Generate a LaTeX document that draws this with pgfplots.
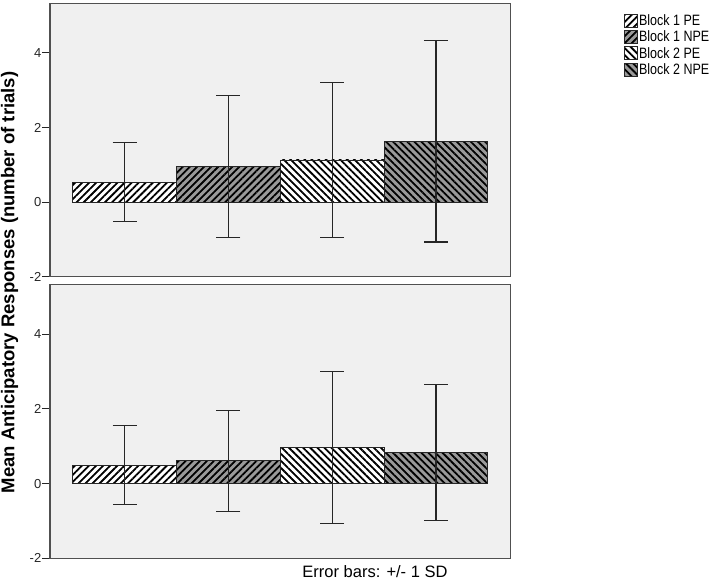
\documentclass[border=0pt]{standalone}
\usepackage{fontspec}
\setmainfont{Liberation Sans}
\usepackage{graphicx}
\usepackage{pgfplots}
\pgfplotsset{compat=1.18}
\usetikzlibrary{patterns.meta}
\definecolor{bggray}{RGB}{240,240,240}
\definecolor{npegray}{RGB}{153,153,153}
\definecolor{framegray}{RGB}{80,80,80}
\newcommand{\legtxt}[1]{\scalebox{1}[1.2]{#1}}
\pgfplotsset{
  panel/.style={
    width=460.7pt, height=273.4pt, scale only axis,
    xmin=-0.72, xmax=3.72, ymin=-2, ymax=5.33,
    xtick=\empty, ytick={-2,0,2,4},
    axis background/.style={fill=bggray},
    axis line style={draw=framegray, line width=1.3pt},
    tick style={black!85, line width=0.9pt},
    major tick length=8pt, tick align=outside, ytick pos=left,
    yticklabel style={font=\fontsize{13}{13}\selectfont, text=black!85, inner xsep=0.5pt},
    /pgf/number format/assume math mode=true,
  },
  basebar/.style={ybar, bar width=1, bar shift=0pt, draw=black!85, line width=0.9pt, fill=#1, forget plot},
  patbar/.style 2 args={ybar, bar width=1, bar shift=0pt, draw=black!85, line width=0.9pt,
    pattern={Lines[angle=#1,distance=5pt,line width=1.8pt]}, pattern color=black,
    legend image code/.code={\fill[#2] (0pt,-6.5pt) rectangle (13pt,6.5pt);
      \draw[##1] (0pt,-6.5pt) rectangle (13pt,6.5pt);},
    error bars/.cd, y dir=both, y explicit,
    error bar style={line width=1.1pt, black!85},
    error mark options={rotate=90, line width=1.1pt, mark size=12pt, black!85}},
}
\begin{document}
\begin{tikzpicture}
\useasboundingbox (0,0) rectangle (711pt,583pt);
\begin{axis}[panel, at={(50pt,306.3pt)}, anchor=south west,
  ylabel={Mean Anticipatory Responses (number of trials)},
  every axis y label/.style={at={(axis description cs:-0.0879,-0.0212)}, rotate=90, anchor=center,
    font=\bfseries\fontsize{18.5}{18.5}\selectfont},
  legend style={at={(axis description cs:1.2383,0.9693)}, anchor=north west, draw=none, fill=none,
    font=\fontsize{12.5}{13}\selectfont, row sep=2.4pt, nodes={inner xsep=1.5pt, inner ysep=0pt}},
  legend cell align=left]
\addplot[basebar=white] coordinates {(0,0.53)};
\addplot[patbar={45}{white}] coordinates {(0,0.53) +- (0,1.06)};
\addlegendentry{\legtxt{Block 1 PE}}
\addplot[basebar=npegray] coordinates {(1,0.955)};
\addplot[patbar={45}{npegray}] coordinates {(1,0.955) +- (0,1.915)};
\addlegendentry{\legtxt{Block 1 NPE}}
\addplot[basebar=white] coordinates {(2,1.13)};
\addplot[patbar={-45}{white}] coordinates {(2,1.13) +- (0,2.07)};
\addlegendentry{\legtxt{Block 2 PE}}
\addplot[basebar=npegray] coordinates {(3,1.635)};
\addplot[patbar={-45}{npegray}] coordinates {(3,1.635) +- (0,2.705)};
\addlegendentry{\legtxt{Block 2 NPE}}
\node[rotate=-90, font=\bfseries\fontsize{19.5}{19.5}\selectfont] at (axis description cs:1.0354,0.4927) {UHR-};
\end{axis}
\begin{axis}[panel, at={(50pt,24.7pt)}, anchor=south west, height=274pt,
  xlabel={Error bars: +/- 1 SD},
  every axis x label/.style={at={(axis description cs:0.7054,-0.05)}, anchor=center,
    font=\fontsize{16.5}{16.5}\selectfont}]
\addplot[basebar=white] coordinates {(0,0.495)};
\addplot[patbar={45}{white}] coordinates {(0,0.495) +- (0,1.065)};
\addplot[basebar=npegray] coordinates {(1,0.605)};
\addplot[patbar={45}{npegray}] coordinates {(1,0.605) +- (0,1.345)};
\addplot[basebar=white] coordinates {(2,0.97)};
\addplot[patbar={-45}{white}] coordinates {(2,0.97) +- (0,2.03)};
\addplot[basebar=npegray] coordinates {(3,0.82)};
\addplot[patbar={-45}{npegray}] coordinates {(3,0.82) +- (0,1.82)};
\node[rotate=-90, font=\bfseries\fontsize{19.5}{19.5}\selectfont] at (axis description cs:1.0354,0.497) {UHR+};
\end{axis}
\end{tikzpicture}
\end{document}
